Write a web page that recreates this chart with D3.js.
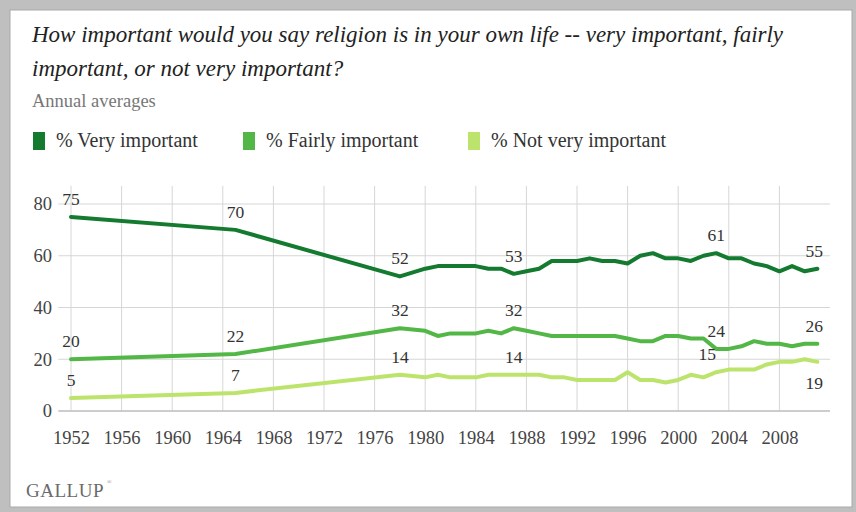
<!DOCTYPE html>
<html>
<head>
<meta charset="utf-8">
<script src="https://cdn.jsdelivr.net/npm/d3@7"></script>
<style>
body{margin:0;background:#fff}
svg{display:block}
text{font-family:"Liberation Serif","DejaVu Serif",serif}
.title{font-style:italic;font-size:23px;fill:#222}
.sub{font-size:18.5px;fill:#777}
.legend{font-size:20px;fill:#333}
.tick{font-size:18.5px;fill:#444}
.value{font-size:17.5px;fill:#333}
.logo{font-size:19px;fill:#6a6a6a;letter-spacing:0.5px}
</style>
</head>
<body>
<svg id="chart"></svg>
<script>
//data
var years=[1952,1965,1978,1980,1981,1982,1983,1984,1985,1986,1987,1988,1989,1990,1991,1992,1993,1994,1995,1996,1997,1998,1999,2000,2001,2002,2003,2004,2005,2006,2007,2008,2009,2010,2011]
var veryImportant=[75,70,52,55,56,56,56,56,55,55,53,54,55,58,58,58,59,58,58,57,60,61,59,59,58,60,61,59,59,57,56,54,56,54,55]
var fairlyImportant=[20,22,32,31,29,30,30,30,31,30,32,31,30,29,29,29,29,29,29,28,27,27,29,29,28,28,24,24,25,27,26,26,25,26,26]
var notVeryImportant=[5,7,14,13,14,13,13,13,14,14,14,14,14,13,13,12,12,12,12,15,12,12,11,12,14,13,15,16,16,16,18,19,19,20,19]
var labelYears=[1952,1965,1978,1987,2003,2011]
var seriesNames=["% Very important","% Fairly important","% Not very important"]
var seriesColors=["#137a2f","#52b746","#bce46c"]
var xTicks=[1952,1956,1960,1964,1968,1972,1976,1980,1984,1988,1992,1996,2000,2004,2008]
var yTicks=[0,20,40,60,80]

var screen={width:856,height:512}
var margins={left:71,right:26,top:204,bottom:101}
var graph={
    width:screen.width-margins.left-margins.right,
    height:screen.height-margins.bottom-margins.top
}

var svg=d3.select("#chart")
    .attr("width",screen.width)
    .attr("height",screen.height)

//frame
svg.append("rect")
    .attr("width",screen.width)
    .attr("height",screen.height)
    .attr("fill","#bfbfbf")
svg.append("rect")
    .attr("x",10).attr("y",10)
    .attr("width",842).attr("height",497)
    .attr("fill","#fff")
    .attr("stroke","#a9a9a9")

var xScale=d3.scaleLinear()
    .domain([1952,2012])
    .range([margins.left,margins.left+graph.width])
var yScale=d3.scaleLinear()
    .domain([0,80])
    .range([margins.top+graph.height,margins.top])

//grid
var createGrid=function(){
    var grid=svg.append("g")
    grid.selectAll(".vgrid")
        .data(xTicks)
        .enter()
        .append("line")
        .attr("x1",function(d){return xScale(d)})
        .attr("x2",function(d){return xScale(d)})
        .attr("y1",yScale(87))
        .attr("y2",yScale(0))
        .attr("stroke","#d6d6d6")
    grid.selectAll(".hgrid")
        .data(yTicks)
        .enter()
        .append("line")
        .attr("x1",xScale(1951))
        .attr("x2",xScale(2012))
        .attr("y1",function(d){return yScale(d)})
        .attr("y2",function(d){return yScale(d)})
        .attr("stroke",function(d){return d==0?"#bcbcbc":"#d6d6d6"})
        .attr("stroke-width",function(d){return d==0?1.5:1})
}

//axes
var createAxes=function(){
    var xAxis=d3.axisBottom(xScale)
        .tickValues(xTicks)
        .tickFormat(d3.format("d"))
        .tickSize(0)
        .tickPadding(20)
    var yAxis=d3.axisLeft(yScale)
        .tickValues(yTicks)
        .tickSize(0)
        .tickPadding(19)
    var gx=svg.append("g")
        .attr("transform","translate(0,"+(margins.top+graph.height)+")")
        .call(xAxis)
    var gy=svg.append("g")
        .attr("transform","translate("+margins.left+",0)")
        .call(yAxis)
    gx.select(".domain").remove()
    gy.select(".domain").remove()
    gx.attr("font-family",null).attr("font-size",null)
    gy.attr("font-family",null).attr("font-size",null)
    gx.selectAll("text").attr("class","tick").attr("fill",null)
    gy.selectAll("text").attr("class","tick").attr("fill",null)
}

//lines
var drawLines=function(){
    var series=[veryImportant,fairlyImportant,notVeryImportant]
    var lineGenerator=d3.line()
        .x(function(v,i){return xScale(years[i])})
        .y(function(v){return yScale(v)})
    svg.append("g")
        .selectAll("path")
        .data(series)
        .enter()
        .append("path")
        .attr("d",lineGenerator)
        .attr("fill","none")
        .attr("stroke",function(d,i){return seriesColors[i]})
        .attr("stroke-width",4)
        .attr("stroke-linejoin","round")
        .attr("stroke-linecap","round")

    //value labels
    var labels=svg.append("g")
    series.forEach(function(values,s){
        labelYears.forEach(function(yr){
            var i=years.indexOf(yr)
            var under=(s==2&&yr==2011)
            var dx=0
            if(yr==2011) dx=-3
            if(s==2&&yr==2003) dx=-9
            labels.append("text")
                .classed("value",true)
                .attr("text-anchor","middle")
                .attr("x",xScale(yr)+dx)
                .attr("y",under?yScale(values[i])+27:yScale(values[i])-12)
                .text(values[i])
        })
    })
}

//title, legend, logo
var createLabels=function(){
    var t=svg.append("g")
    t.append("text").classed("title",true)
        .attr("x",32).attr("y",42)
        .text("How important would you say religion is in your own life -- very important, fairly")
    t.append("text").classed("title",true)
        .attr("x",32).attr("y",76)
        .text("important, or not very important?")
    t.append("text").classed("sub",true)
        .attr("x",32).attr("y",107)
        .text("Annual averages")

    var legendX=[33,243,468]
    var leg=t.selectAll(".leg")
        .data(seriesNames)
        .enter()
        .append("g")
        .attr("transform",function(d,i){return "translate("+legendX[i]+",132)"})
    leg.append("rect")
        .attr("width",12).attr("height",18)
        .attr("fill",function(d,i){return seriesColors[i]})
    leg.append("text").classed("legend",true)
        .attr("x",23).attr("y",15)
        .text(function(d){return d})

    t.append("text").classed("logo",true)
        .attr("x",26).attr("y",497)
        .text("GALLUP")
    t.append("text")
        .attr("x",107).attr("y",484)
        .attr("font-size",6).attr("fill","#888")
        .text("®")
}

createGrid()
createAxes()
drawLines()
createLabels()
</script>
</body>
</html>
